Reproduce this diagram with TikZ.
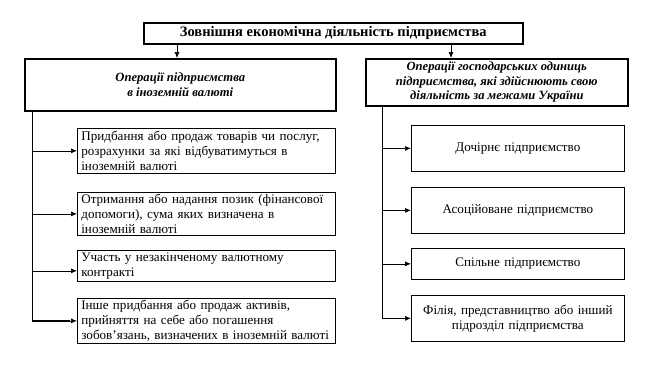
\documentclass[tikz,border=0pt]{standalone}
\usepackage{fontspec}
\setmainfont{Liberation Serif}
\usetikzlibrary{arrows.meta}
\begin{document}
\begin{tikzpicture}[x=1pt,y=-1pt,
  thickbox/.style={draw, line width=1.6pt, inner sep=0pt, anchor=north west, align=center},
  itembox/.style={draw, line width=0.7pt, anchor=north west, inner xsep=4pt, inner ysep=0pt, align=left,
     font=\fontsize{13.1}{15}\selectfont},
  arr/.style={-{Latex[length=6pt,width=5pt]}, line width=0.7pt}]
\useasboundingbox (0,0) rectangle (645,381);
% title
\node[thickbox, minimum width=379pt, minimum height=21pt, font=\bfseries\fontsize{14.5}{16}\selectfont] (title) at (143,22) {Зовнішня економічна діяльність підприємства};
% headings
\node[thickbox, minimum width=311pt, minimum height=52pt, font=\bfseries\itshape\fontsize{12.6}{15.5}\selectfont] (lh) at (24,58) {Операції підприємства\\в іноземній валюті};
\node[thickbox, minimum width=262pt, minimum height=47pt, font=\bfseries\itshape\fontsize{12.6}{14.5}\selectfont] (rh) at (365,58) {Операції господарських одиниць\\підприємства, які здійснюють свою\\діяльність за межами України};
% left items
\node[itembox, text width=250pt, minimum height=45pt] (l1) at (77,128) {Придбання або продаж товарів чи послуг,\\розрахунки за які відбуватимуться в\\іноземній валюті};
\node[itembox, text width=250pt, minimum height=43pt] (l2) at (77,192) {Отримання або надання позик (фінансової\\допомоги), сума яких визначена в\\іноземній валюті};
\node[itembox, text width=250pt, minimum height=31pt] (l3) at (77,250) {Участь у незакінченому валютному\\контракті};
\node[itembox, text width=250pt, minimum height=45pt] (l4) at (77,298) {Інше придбання або продаж активів,\\прийняття на себе або погашення\\зобов’язань, визначених в іноземній валюті};
% right items
\node[itembox, align=center, text width=205pt, minimum height=46pt] (r1) at (411,125) {Дочірнє підприємство};
\node[itembox, align=center, text width=205pt, minimum height=46pt] (r2) at (411,187) {Асоційоване підприємство};
\node[itembox, align=center, text width=205pt, minimum height=31pt] (r3) at (411,248) {Спільне підприємство};
\node[itembox, align=center, text width=205pt, minimum height=46pt] (r4) at (411,295) {Філія, представництво або інший\\підрозділ підприємства};
% connectors
\coordinate (ta) at (177,0);
\coordinate (tb) at (451,0);
\draw[arr] (title.south -| ta) -- (ta |- lh.north);
\draw[arr] (title.south -| tb) -- (tb |- rh.north);
\coordinate (lv) at (32,0);
\coordinate (rv) at (382,0);
\coordinate (a3) at ([yshift=-5pt]l3.west);
\draw[line width=0.9pt] (lh.south -| lv) -- (lv |- l4.west) -- ([xshift=-7pt]l4.west);
\draw[line width=0.9pt] (rh.south -| rv) -- (rv |- r4.west) -- ([xshift=-7pt]r4.west);
\foreach \n in {l1,l2,l4} \draw[arr] (lv |- \n.west) -- (\n.west);
\draw[arr] (lv |- a3) -- (a3);
\foreach \n in {r1,r2,r3,r4} \draw[arr] (rv |- \n.west) -- (\n.west);
\end{tikzpicture}
\end{document}
